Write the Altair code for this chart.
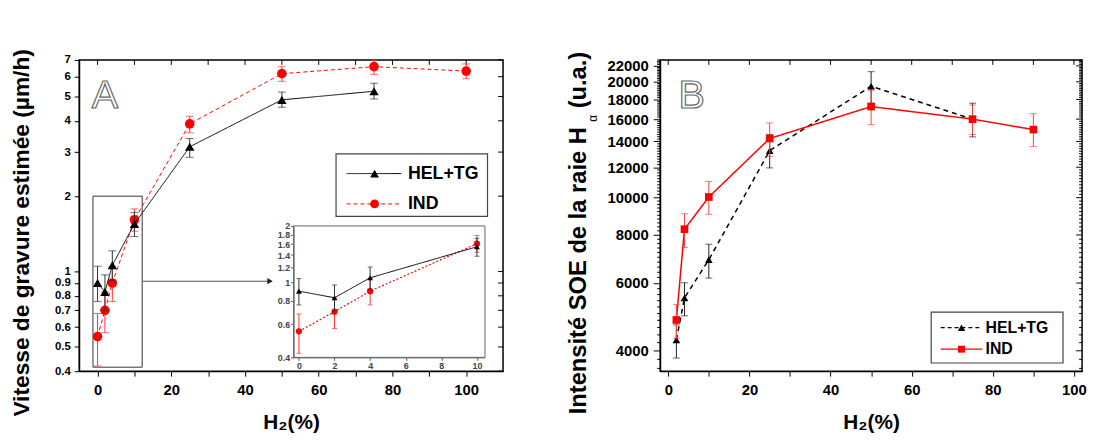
import altair as alt
import pandas as pd

FONT = "Liberation Sans"
RED = "#ff0000"

# ---------------- data ----------------
# Panel A : estimated etch rate (um/h), log axis
A_HEL_x = [0, 2, 4, 10, 25, 50, 75]
A_HEL_y = [0.90, 0.83, 1.06, 1.55, 3.15, 4.85, 5.25]
A_HEL_lo = [0.76, 0.70, 0.92, 1.38, 2.86, 4.53, 4.89]
A_HEL_hi = [1.05, 0.97, 1.21, 1.72, 3.40, 5.21, 5.65]

A_IND_x = [0, 2, 4, 10, 25, 50, 75, 100]
A_IND_y = [0.55, 0.70, 0.90, 1.61, 3.89, 6.17, 6.58, 6.32]
A_IND_lo = [0.42, 0.57, 0.76, 1.45, 3.58, 5.75, 6.13, 5.89]
A_IND_hi = [0.68, 0.83, 1.05, 1.78, 4.17, 6.58, 7.00, 6.75]

# Panel B : OES intensity of H alpha line (a.u.), log axis
B_HEL_x = [2, 4, 10, 25, 50, 75]
B_HEL_y = [4270, 5490, 6900, 13250, 19480, 16000]
B_HEL_lo = [3830, 4930, 6180, 11950, 17600, 14390]
B_HEL_hi = [4670, 6010, 7570, 14600, 21250, 17600]

B_IND_x = [2, 4, 10, 25, 50, 75, 90]
B_IND_y = [4810, 8280, 10040, 14250, 17250, 16000, 15030]
B_IND_lo = [4310, 7420, 9050, 12800, 15480, 14600, 13570]
B_IND_hi = [5280, 9080, 11020, 15640, 18970, 17400, 16530]

SERIES = ["HEL+TG", "IND"]

# ticks
A_XTICKS = list(range(0, 101, 10))
A_YTICKS = [0.4, 0.5, 0.6, 0.7, 0.8, 0.9, 1, 2, 3, 4, 5, 6, 7]
IN_XTICKS = [0, 2, 4, 6, 8, 10]
IN_YTICKS = [0.4, 0.6, 0.8, 1.0, 1.2, 1.4, 1.6, 1.8, 2.0]
B_XTICKS = list(range(0, 101, 10))
B_YTICKS = list(range(4000, 22001, 2000))
B_YMINOR = [v for v in range(3600, 22801, 200) if v % 2000 != 0]

# zoom box / arrow in panel A (data units)
ZOOM_BOX = {"x1": [-1.25], "x2": [12.1], "y1": [0.415], "y2": [2.0]}
ARROW = {"x1": [12.1], "x2": [46.8], "y": [0.915]}

W_A, W_B, H = 429, 427, 315

one = pd.DataFrame({"k": [0]})


def frame(x, y, lo, hi):
    return pd.DataFrame({"x": x, "y": y, "lo": lo, "hi": hi})


def caps(df):
    return pd.DataFrame({"x": list(df.x) * 2, "v": list(df.lo) + list(df.hi)})


def series_layers(df, X, Yf, color, dash, shape, size, lw, capw, ecolor, ew=1.0):
    base = alt.Chart(df)
    line = base.mark_line(color=color, strokeWidth=lw, strokeDash=dash).encode(x=X("x"), y=Yf("y"))
    err = base.mark_rule(color=ecolor, strokeWidth=ew).encode(x=X("x"), y=Yf("lo"), y2="hi:Q")
    cap = alt.Chart(caps(df)).mark_tick(color=ecolor, orient="horizontal", size=capw, thickness=ew).encode(
        x=X("x"), y=Yf("v"))
    pts = base.mark_point(shape=shape, filled=True, size=size, color=color, opacity=1).encode(
        x=X("x"), y=Yf("y"))
    return [line, err, cap, pts]


def txt(t, x, y, size, angle=0, align="center", baseline="middle", weight="bold", color="black", **kw):
    return alt.Chart(one).mark_text(text=t, font=FONT, fontSize=size, fontWeight=weight, angle=angle,
                                    align=align, baseline=baseline, color=color, **kw).encode(
        x=alt.value(x), y=alt.value(y))


def legend_row(y, x1, x2, xm, xt, color, dash, shape, size, lw, label, fs):
    seg = alt.Chart(one).mark_rule(color=color, strokeWidth=lw, strokeDash=dash).encode(
        x=alt.value(x1), x2=alt.value(x2), y=alt.value(y))
    mk = alt.Chart(one).mark_point(shape=shape, filled=True, size=size, color=color, opacity=1).encode(
        x=alt.value(xm), y=alt.value(y))
    return [seg, mk, txt(label, xt, y, fs, align="left")]


def box(x1, x2, y1, y2, stroke="#444", sw=1.2):
    return alt.Chart(one).mark_rect(fill="white", stroke=stroke, strokeWidth=sw).encode(
        x=alt.value(x1), x2=alt.value(x2), y=alt.value(y1), y2=alt.value(y2))


# ---------------- panel A ----------------
SXA = alt.Scale(domain=[-5, 110], nice=False, zero=False)
SYA = alt.Scale(type="log", domain=[0.4, 7], nice=False)
AXA = alt.Axis(values=A_XTICKS, labelExpr="datum.value % 20 == 0 ? datum.label : ''", format="d",
               title="H\u2082(%)", titleFontSize=21, titlePadding=14, labelPadding=7, tickSize=5)
AYA = alt.Axis(values=A_YTICKS, format="~g", title=None, labelPadding=4, tickSize=5, labelFontSize=11.5)


def XA(f):
    return alt.X(f"{f}:Q", scale=SXA, axis=AXA)


def YA(f):
    return alt.Y(f"{f}:Q", scale=SYA, axis=AYA)


dA_h = frame(A_HEL_x, A_HEL_y, A_HEL_lo, A_HEL_hi)
dA_i = frame(A_IND_x, A_IND_y, A_IND_lo, A_IND_hi)

top_ticks_A = alt.Chart(pd.DataFrame({"x": A_XTICKS})).mark_rule(color="black").encode(
    x=XA("x"), y=alt.value(0), y2=alt.value(5))
right_ticks_A = alt.Chart(pd.DataFrame({"y": A_YTICKS})).mark_rule(color="black").encode(
    y=YA("y"), x=alt.value(W_A), x2=alt.value(W_A - 5))
zoom_rect = alt.Chart(pd.DataFrame(ZOOM_BOX)).mark_rect(fill=None, stroke="#333", strokeWidth=1).encode(
    x=XA("x1"), x2="x2:Q", y=YA("y1"), y2="y2:Q")
arrow_line = alt.Chart(pd.DataFrame(ARROW)).mark_rule(color="#555", strokeWidth=1.2).encode(
    x=XA("x1"), x2="x2:Q", y=YA("y"))
arrow_head = alt.Chart(pd.DataFrame(ARROW)).mark_point(shape="triangle-right", filled=True, size=40,
                                                      color="#222", opacity=1).encode(x=XA("x2"), y=YA("y"))

main_A = alt.layer(
    top_ticks_A, right_ticks_A, zoom_rect, arrow_line, arrow_head,
    *series_layers(dA_i, XA, YA, RED, [4, 3], "circle", 95, 1, 8, "#ff3030"),
    *series_layers(dA_h, XA, YA, "black", [1, 0], "triangle-up", 90, 1, 8, "#333"),
)

# inset
SXI = alt.Scale(domain=[-0.3, 10.45], range=[217, 410.7], nice=False, zero=False)
SYI = alt.Scale(type="log", domain=[0.4, 2], range=[301, 168], nice=False)
AXI = alt.Axis(values=IN_XTICKS, format="d", title=None, orient="bottom", offset=-14, labelFontSize=9,
               labelColor="#444", tickSize=3, labelPadding=1, domainColor="#555", tickColor="#555",
               domainWidth=1)
AYI = alt.Axis(values=IN_YTICKS, format="~g", title=None, orient="left", offset=-217, labelFontSize=9,
               labelColor="#444", tickSize=3, labelPadding=1, domainColor="#555", tickColor="#555",
               domainWidth=1)


def XI(f):
    return alt.X(f"{f}:Q", scale=SXI, axis=AXI)


def YI(f):
    return alt.Y(f"{f}:Q", scale=SYI, axis=AYI)


dI_h = dA_h[dA_h.x <= 10].reset_index(drop=True)
dI_i = dA_i[dA_i.x <= 10].reset_index(drop=True)
inset_frame = alt.Chart(pd.DataFrame({"x1": [-0.3], "x2": [10.45], "y1": [0.4], "y2": [2.0]})).mark_rect(
    fill=None, stroke="#666", strokeWidth=1).encode(x=XI("x1"), x2="x2:Q", y=YI("y1"), y2="y2:Q")

inset_A = alt.layer(
    inset_frame,
    *series_layers(dI_i, XI, YI, RED, [2, 2], "circle", 40, 1.2, 5, "#ff3030"),
    *series_layers(dI_h, XI, YI, "black", [1, 0], "triangle-up", 35, 1, 5, "#333"),
)

deco_A = alt.layer(
    box(260, 413.3, 95, 158.4),
    *legend_row(115, 270.7, 326, 299, 332.7, "black", [1, 0], "triangle-up", 80, 1, "HEL+TG", 18),
    *legend_row(145.7, 270.7, 326, 299, 332.7, RED, [4, 3], "circle", 80, 1, "IND", 18),
    txt("A", 26, 37, 40, weight="normal", fill="white", stroke="#666", strokeWidth=1.2),
    txt("Vitesse de gravure estimée (µm/h)", -58, 175, 23, angle=270),
)

panel_A = alt.layer(main_A, inset_A, deco_A).resolve_scale(x="independent", y="independent").properties(
    width=W_A, height=H)

# ---------------- panel B ----------------
SXB = alt.Scale(domain=[-2, 102], nice=False, zero=False)
SYB = alt.Scale(type="log", domain=[3540, 22800], nice=False)
AXB = alt.Axis(values=B_XTICKS, labelExpr="datum.value % 20 == 0 ? datum.label : ''", format="d",
               title="H\u2082(%)", titleFontSize=21, titlePadding=14, labelPadding=7, tickSize=5)
AYB = alt.Axis(values=B_YTICKS, format="d", title=None, labelPadding=5, tickSize=7)


def XB(f):
    return alt.X(f"{f}:Q", scale=SXB, axis=AXB)


def YB(f):
    return alt.Y(f"{f}:Q", scale=SYB, axis=AYB)


dB_h = frame(B_HEL_x, B_HEL_y, B_HEL_lo, B_HEL_hi)
dB_i = frame(B_IND_x, B_IND_y, B_IND_lo, B_IND_hi)

top_ticks_B = alt.Chart(pd.DataFrame({"x": B_XTICKS})).mark_rule(color="black").encode(
    x=XB("x"), y=alt.value(0), y2=alt.value(5))
right_ticks_B = alt.Chart(pd.DataFrame({"y": B_YTICKS})).mark_rule(color="black").encode(
    y=YB("y"), x=alt.value(W_B), x2=alt.value(W_B - 6))
minor_left_B = alt.Chart(pd.DataFrame({"y": B_YMINOR})).mark_rule(color="black").encode(
    y=YB("y"), x=alt.value(0), x2=alt.value(-3))
minor_right_B = alt.Chart(pd.DataFrame({"y": B_YMINOR})).mark_rule(color="black").encode(
    y=YB("y"), x=alt.value(W_B), x2=alt.value(W_B - 3))

main_B = alt.layer(
    top_ticks_B, right_ticks_B, minor_left_B, minor_right_B,
    *series_layers(dB_h, XB, YB, "black", [5, 4], "triangle-up", 60, 1.5, 7, "#222"),
    *series_layers(dB_i, XB, YB, RED, [1, 0], "square", 60, 1.5, 7, "#ff4040"),
)

deco_B = alt.layer(
    box(274.3, 407.7, 255.3, 306.7),
    *legend_row(271, 284, 326, 305, 329.3, "black", [4, 3], "triangle-up", 55, 1.3, "HEL+TG", 16),
    *legend_row(292.7, 284, 326, 305, 329.3, RED, [1, 0], "square", 50, 1.3, "IND", 16),
    txt("B", 32, 36.5, 40, weight="normal", fill="white", stroke="#666", strokeWidth=1.2),
    txt("Intensité SOE de la raie H", -82, 68, 24, angle=270, align="right"),
    txt("\u03b1", -68, 59, 12, angle=270, weight="normal"),
    txt("(u.a.)", -82, 49, 24, angle=270, align="left"),
)

panel_B = alt.layer(main_B, deco_B).properties(width=W_B, height=H)

chart = alt.hconcat(panel_A, panel_B, spacing=62).properties(
    padding={"left": 2, "top": 38, "right": 0, "bottom": 0}, background="white"
).configure_view(stroke="black", strokeWidth=1.5).configure_axis(
    labelFont=FONT, labelFontWeight="bold", labelFontSize=15, labelColor="black",
    titleFont=FONT, titleFontWeight="bold", titleColor="black",
    domainColor="black", tickColor="black", grid=False, labelFlush=False, labelOverlap=False,
    domainWidth=1.2
)

chart.save("out.html", embed_options={"renderer": "svg", "actions": False})
